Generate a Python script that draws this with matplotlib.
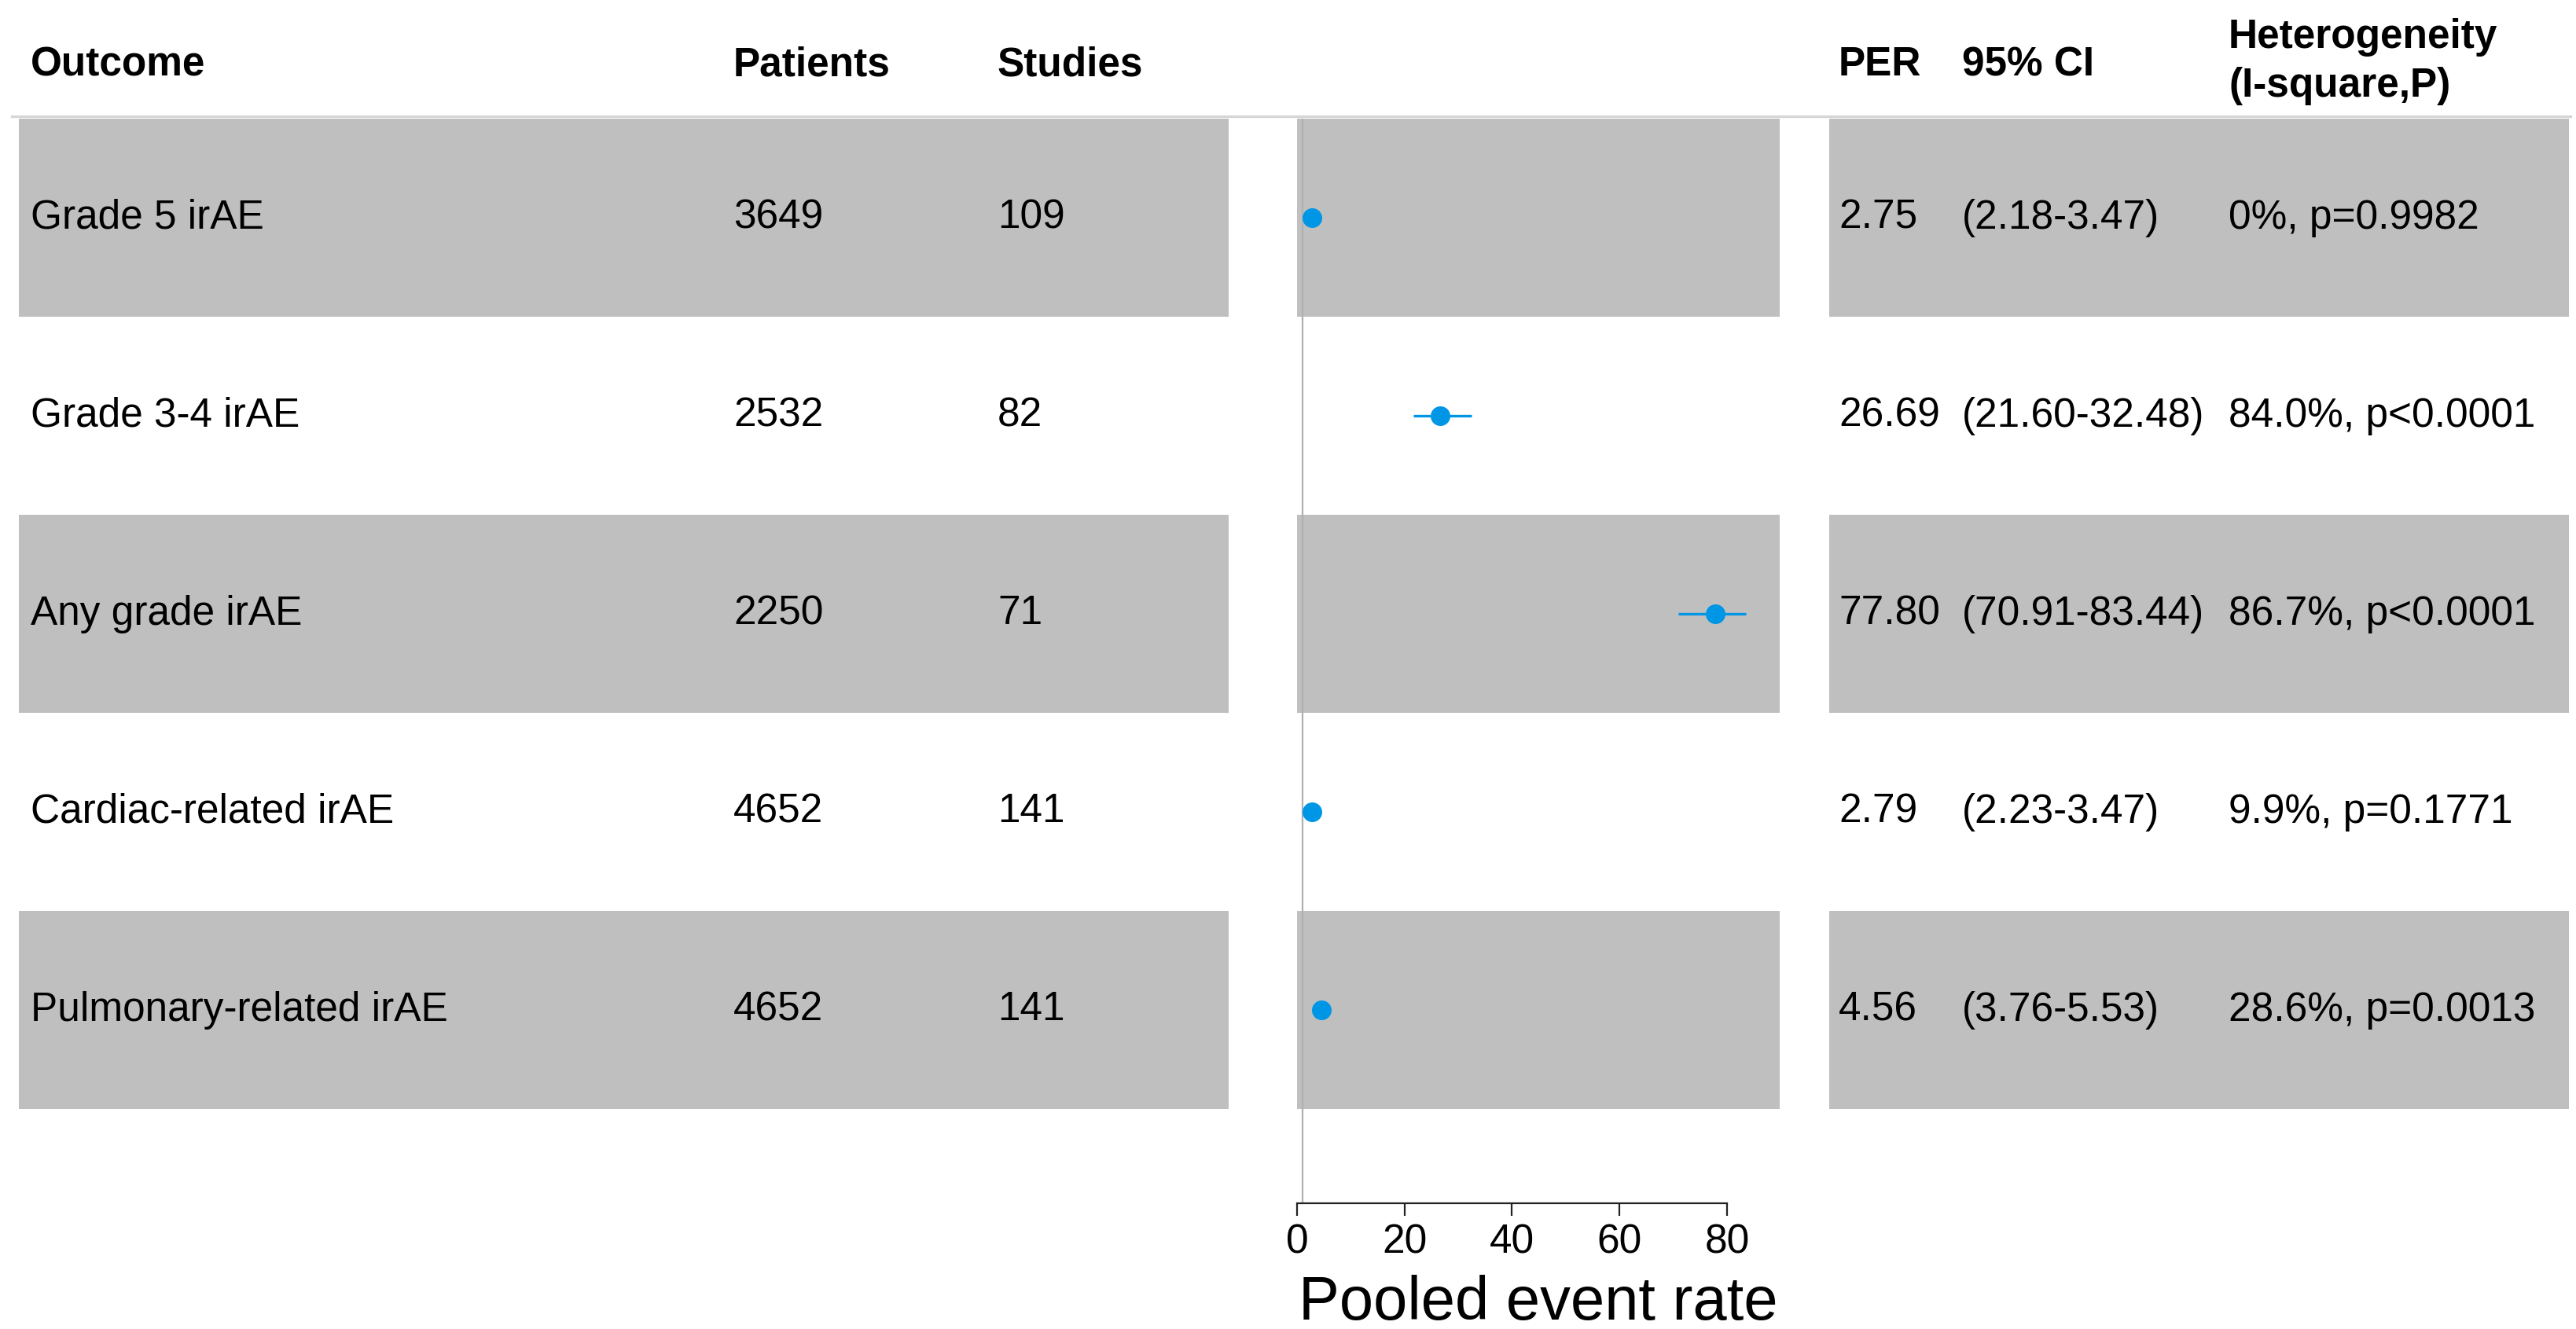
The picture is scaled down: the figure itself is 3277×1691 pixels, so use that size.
import matplotlib
matplotlib.use("Agg")
import matplotlib.pyplot as plt
from matplotlib.lines import Line2D

plt.rcParams['font.family'] = ['Liberation Sans', 'DejaVu Sans']

# data
outcomes = ['Grade 5 irAE', 'Grade 3-4 irAE', 'Any grade irAE',
            'Cardiac-related irAE', 'Pulmonary-related irAE']
patients = [3649, 2532, 2250, 4652, 4652]
studies = [109, 82, 71, 141, 141]
per = [2.75, 26.69, 77.80, 2.79, 4.56]
ci_low = [2.18, 21.60, 70.91, 2.23, 3.76]
ci_high = [3.47, 32.48, 83.44, 3.47, 5.53]
heterogeneity = ['0%, p=0.9982', '84.0%, p<0.0001', '86.7%, p<0.0001',
                 '9.9%, p=0.1771', '28.6%, p=0.0013']

W, H = 3277, 1691
fig = plt.figure(figsize=(W / 200, H / 200), dpi=200)

def fx(px):
    return px / W

def fy(py):
    return 1 - py / H

gray = '#BFBFBF'
blue = '#0096E6'
fs = 18.5

top, bottom = 151, 1531
ax_b, ax_h = fy(bottom), (bottom - top) / H
ylo = 5.5 - (bottom - top) / 252
ypos = [5, 4, 3, 2, 1]

ax_l = fig.add_axes([fx(24), ax_b, fx(1563 - 24), ax_h])
ax_f = fig.add_axes([fx(1650), ax_b, fx(2264 - 1650), ax_h])
ax_r = fig.add_axes([fx(2327), ax_b, fx(3268 - 2327), ax_h])

ax_l.set_xlim(24, 1563)
ax_r.set_xlim(2327, 3268)
ax_f.set_xlim(0, 89.8)

for ax in (ax_l, ax_f, ax_r):
    ax.set_ylim(ylo, 5.5)
    for i, y in enumerate(ypos):
        if i % 2 == 0:
            ax.axhspan(y - 0.5, y + 0.5, color=gray, lw=0, zorder=0)
for ax in (ax_l, ax_r):
    ax.axis('off')

# left table
for y, o, p, s in zip(ypos, outcomes, patients, studies):
    ax_l.text(39, y, o, fontsize=fs, va='center', ha='left')
    ax_l.text(933, y, str(p), fontsize=fs, va='center', ha='left')
    ax_l.text(1269, y, str(s), fontsize=fs, va='center', ha='left')

# right table
for y, e, lo, hi, h in zip(ypos, per, ci_low, ci_high, heterogeneity):
    ax_r.text(2339, y, f'{e:.2f}', fontsize=fs, va='center', ha='left')
    ax_r.text(2496, y, f'({lo:.2f}-{hi:.2f})', fontsize=fs, va='center', ha='left')
    ax_r.text(2835, y, h, fontsize=fs, va='center', ha='left')

# forest plot
ax_f.axvline(1, ymin=0, ymax=1, color='#B0B0B0', lw=0.8, zorder=0.5)
ax_f.hlines(ypos, ci_low, ci_high, color=blue, lw=1.2, zorder=3)
ax_f.plot(per, ypos, 'o', color=blue, ms=8, zorder=4)
for sp in ('top', 'right', 'left'):
    ax_f.spines[sp].set_visible(False)
ax_f.spines['bottom'].set_bounds(0, 80)
ax_f.spines['bottom'].set_linewidth(0.8)
ax_f.spines['bottom'].set_color('#222222')
ax_f.set_yticks([])
ax_f.set_xticks([0, 20, 40, 60, 80])
ax_f.tick_params(axis='x', length=5.8, width=0.8, color='#222222',
                 labelsize=fs, pad=3.5)
ax_f.set_xlabel('Pooled event rate', fontsize=28, labelpad=6)
ax_f.patch.set_alpha(0)

# header
hy = fy(83)
fig.text(fx(39), hy, 'Outcome', fontsize=fs, fontweight='bold', va='center')
fig.text(fx(933), hy, 'Patients', fontsize=fs, fontweight='bold', va='center')
fig.text(fx(1269), hy, 'Studies', fontsize=fs, fontweight='bold', va='center')
fig.text(fx(2339), hy, 'PER', fontsize=fs, fontweight='bold', va='center')
fig.text(fx(2496), hy, '95% CI', fontsize=fs, fontweight='bold', va='center')
fig.text(fx(2835), fy(48), 'Heterogeneity', fontsize=fs, fontweight='bold', va='center')
fig.text(fx(2835), fy(110), '(I-square,P)', fontsize=fs, fontweight='bold', va='center')
fig.add_artist(Line2D([fx(15), fx(3270)], [fy(148), fy(148)],
                      color='#D6D6D6', lw=1.2))

fig.savefig('out.png', dpi=200)
